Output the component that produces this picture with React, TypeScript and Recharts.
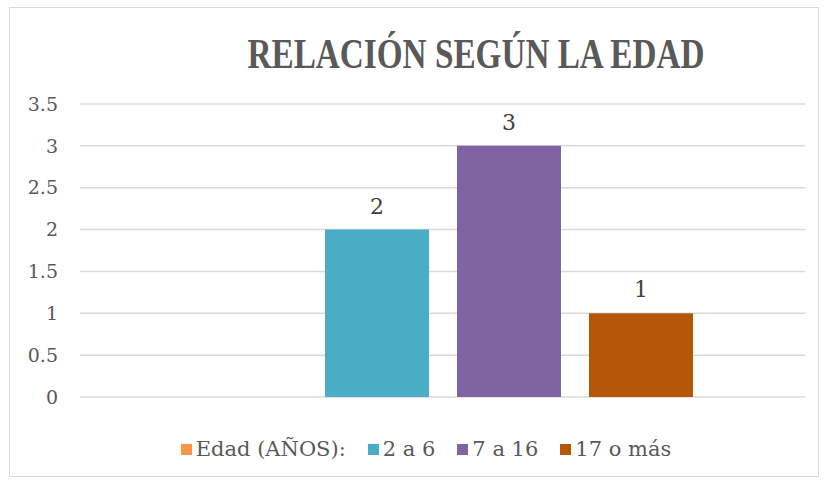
import { BarChart, Bar, XAxis, YAxis, CartesianGrid, Legend, LabelList } from "recharts";

const categories = ["Edad"];
const seriesNames = ["Edad (AÑOS):", "2 a 6", "7 a 16", "17 o más"];
const seriesValues = [0, 2, 3, 1];
const seriesColors = ["#F79646", "#4BACC6", "#8064A2", "#B65708"];
const yTicks = [0, 0.5, 1, 1.5, 2, 2.5, 3, 3.5];
const title = "RELACIÓN SEGÚN LA EDAD";

const keys = seriesNames.map((_, i) => `s${i}`);
const rows = categories.map((c) => {
  const row: Record<string, string | number> = { name: c };
  keys.forEach((k, i) => (row[k] = seriesValues[i]));
  return row;
});

const textColor = "#595959";
const serif = "'DejaVu Serif', serif";

function LegendContent(props: any) {
  // keep the series order, not the alphabetical one
  const payload = [...(props.payload || [])].sort(
    (a: any, b: any) => seriesNames.indexOf(a.value) - seriesNames.indexOf(b.value)
  );
  return (
    <div
      style={{
        display: "flex",
        justifyContent: "center",
        alignItems: "center",
        height: 30,
        paddingLeft: 22,
        fontFamily: serif,
        fontSize: 21,
        color: textColor,
      }}
    >
      {payload.map((p: any, i: number) => (
        <div key={i} style={{ display: "flex", alignItems: "center", marginRight: i < payload.length - 1 ? 22 : 0 }}>
          <span style={{ width: 11, height: 11, background: p.color, display: "inline-block", marginRight: 4 }} />
          <span>{p.value}</span>
        </div>
      ))}
    </div>
  );
}

export default function App() {
  return (
    <div style={{ position: "absolute", left: 0, top: 0, width: 830, height: 482, background: "#fff" }}>
      <div
        style={{
          position: "absolute",
          left: 9,
          top: 7,
          width: 810,
          height: 470,
          border: "1px solid #d9d9d9",
          boxSizing: "border-box",
        }}
      />
      <BarChart
        width={830}
        height={482}
        data={rows}
        margin={{ top: 104, right: 25, bottom: 55, left: 0 }}
        barSize={104}
        barGap={28}
      >
        <CartesianGrid vertical={false} stroke="#d9d9d9" strokeWidth={1.5} />
        <XAxis dataKey="name" hide />
        <YAxis
          width={80}
          domain={[0, 3.5]}
          ticks={yTicks}
          axisLine={false}
          tickLine={false}
          tickSize={0}
          tickMargin={22}
          interval={0}
          tick={{ fill: textColor, fontSize: 19, fontFamily: serif }}
        />
        <Legend
          verticalAlign="bottom"
          content={<LegendContent />}
          wrapperStyle={{ top: 434, bottom: "auto", left: 0, width: 830 }}
        />
        {keys.map((k, i) => (
          <Bar key={k} dataKey={k} name={seriesNames[i]} fill={seriesColors[i]} isAnimationActive={false}>
            {seriesValues[i] > 0 && (
              <LabelList
                dataKey={k}
                position="top"
                offset={16}
                fill="#404040"
                fontSize={22}
                fontFamily={serif}
              />
            )}
          </Bar>
        ))}
      </BarChart>
      <svg width={830} height={100} style={{ position: "absolute", left: 0, top: 0, pointerEvents: "none" }}>
        <text
          x={476}
          y={68}
          textAnchor="middle"
          fill={textColor}
          fontFamily="'Liberation Serif', serif"
          fontWeight="bold"
          fontSize={42}
          textLength={457}
          lengthAdjust="spacingAndGlyphs"
        >
          {title}
        </text>
      </svg>
    </div>
  );
}
